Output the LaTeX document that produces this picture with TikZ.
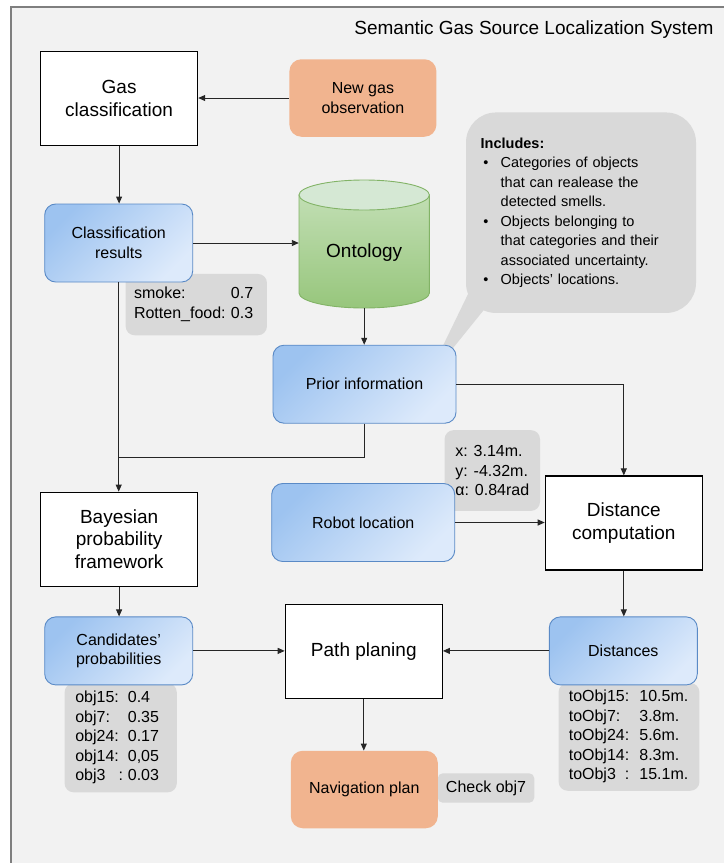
\documentclass[tikz,border=0pt]{standalone}
\usepackage{fontspec}
\setmainfont{Liberation Sans}
\usetikzlibrary{arrows.meta}

\definecolor{framefill}{HTML}{F2F2F2}
\definecolor{framedraw}{HTML}{7F7F7F}
\definecolor{notegray}{HTML}{D9D9D9}
\definecolor{obsorange}{HTML}{F1B48F}
\definecolor{bluedark}{HTML}{9DC3F0}
\definecolor{bluelight}{HTML}{DDEAFB}
\definecolor{blueedge}{HTML}{5A8AC6}
\definecolor{ontotop}{HTML}{D5E8D4}
\definecolor{ontohigh}{HTML}{C1DEB3}
\definecolor{ontolow}{HTML}{97C67C}
\definecolor{ontoedge}{HTML}{82B366}

\pgfdeclarelayer{back}
\pgfdeclarelayer{notes}
\pgfsetlayers{back,notes,main}

\def\bul{\hspace{2.6pt}\textbullet}

\tikzset{
	bigfont/.style={font=\fontsize{19}{22.5}\selectfont},
	smallfont/.style={font=\fontsize{16}{19.5}\selectfont},
	whitebox/.style={draw=black, line width=1.2pt, fill=white, minimum width=157pt, minimum height=94pt, align=center, bigfont},
	bluebox/.style={draw=blueedge, line width=0.9pt, rounded corners=11pt, top color=bluedark, bottom color=bluelight, shading angle=45, minimum width=148pt, minimum height=78pt, align=center, smallfont},
	orangebox/.style={fill=obsorange, rounded corners=12pt, minimum width=147pt, minimum height=77.5pt, align=center, smallfont},
	note/.style={fill=notegray, rounded corners=9pt, align=left, smallfont, inner ysep=0pt},
	arr/.style={draw=black!85, line width=0.9pt, -{Triangle[length=7pt,width=6pt]}},
	link/.style={draw=black!85, line width=0.9pt},
}

\begin{document}
\begin{tikzpicture}[x=1pt, y=-1pt]
		%%%%% START %%%%%
		\useasboundingbox (0,0) rectangle (724,863);
		
		\begin{pgfonlayer}{back}
			\fill[framefill] (11,7) rectangle (724,863);
			\draw[framedraw, line width=1.2pt] (11,863) -- (11,7) -- (724,7);
		\end{pgfonlayer}
		
		\node[bigfont, anchor=base east] (title) at (717,34) {Semantic Gas Source Localization System};
		
		\node[whitebox] (gcls) at (119.1,98.7) {Gas\\classification};
		\node[orangebox] (newobs) at (362.9,98) {New gas\\observation};
		\node[bluebox] (cres) at (118.7,243) {Classification\\results};
		
		% ontology cylinder
		\path[draw=ontoedge, line width=0.9pt, top color=ontohigh, bottom color=ontolow] (299,195) -- (299,293)
			.. controls (299,301.3) and (328.2,308) .. (364.2,308)
			.. controls (400.2,308) and (429.4,301.3) .. (429.4,293) -- (429.4,195) -- cycle;
		\draw[ontoedge, fill=ontotop, line width=0.9pt] (364.2,195) ellipse [x radius=65.2, y radius=15];
		\node[bigfont, minimum width=130.4pt, minimum height=110pt] (onto) at (364.2,253) {Ontology};
		
		\node[bluebox, minimum width=183pt] (prior) at (364.5,384.2) {Prior information};
		\node[whitebox] (bayes) at (119.1,539.2) {Bayesian\\probability\\framework};
		\node[bluebox, minimum width=183pt] (robot) at (363.2,522.5) {Robot location};
		\node[whitebox] (dist) at (623.8,523) {Distance\\computation};
		\node[bluebox, minimum height=68pt] (cand) at (118.7,650.9) {Candidates’\\probabilities};
		\node[whitebox] (path) at (363.8,651.2) {Path planing};
		\node[bluebox, minimum height=68pt] (dists) at (623.3,650.9) {Distances};
		\node[orangebox] (nav) at (364.3,789.5) {Navigation plan};
		
		% notes go behind the boxes
		\begin{pgfonlayer}{notes}
			\node[note, rounded corners=30pt, font=\fontsize{14.5}{19.5}\selectfont, text width=200.6pt, inner xsep=14.7pt, minimum height=200.5pt] (incl) at (581,212.7) {%
				\begin{tabular}{@{}p{20pt}@{}l@{}}
					\multicolumn{2}{@{}l@{}}{\textbf{Includes:}}\\
					\bul & Categories of objects\\
					& that can realease the\\
					& detected smells.\\
					\bul & Objects belonging to\\
					& that categories and their\\
					& associated uncertainty.\\
					\bul & Objects’ locations.
				\end{tabular}};
			\fill[notegray] (470,290) -- (487,306) -- (445,358) -- (437,358) -- cycle;
			
			\node[note, text width=124.5pt, inner xsep=8.4pt, minimum height=61.3pt] (smell) at (196.3,304.6)
				{\begin{tabular}{@{}l@{\ }r@{}}smoke: & 0.7\\ Rotten\_food: & 0.3\end{tabular}};
			\node[note, minimum width=95.4pt, inner xsep=10.1pt, minimum height=80.7pt] (pose) at (492.3,470.5)
				{x: 3.14m.\\y: -4.32m.\\α: 0.84rad};
			\node[note, text width=90.8pt, inner xsep=10.7pt, minimum height=109pt] (probs) at (120.7,737.8)
				{\begin{tabular}{@{}p{52.6pt}@{}l@{}}obj15: & 0.4\\ obj7: & 0.35\\ obj24: & 0.17\\ obj14: & 0,05\\ obj3\hspace{13pt}: & 0.03\end{tabular}};
			\node[note, text width=120.4pt, inner xsep=10.2pt, minimum height=107.7pt] (dvals) at (629,736.9)
				{\begin{tabular}{@{}p{70.6pt}@{}l@{}}toObj15: & 10.5m.\\ toObj7: & 3.8m.\\ toObj24: & 5.6m.\\ toObj14: & 8.3m.\\ toObj3\hspace{9pt}: & 15.1m.\end{tabular}};
			\node[note, rounded corners=5pt, minimum width=96.5pt, minimum height=29.4pt, inner xsep=0pt] (check) at (486,788) {Check obj7};
		\end{pgfonlayer}
		
		% connectors
		\coordinate (merge) at (118.7,457.3);
		\draw[arr] (newobs.west) -- (newobs.west -| gcls.east);
		\draw[arr] (gcls.south) -- (gcls.south |- cres.north);
		\draw[arr] (cres.east) -- (cres.east -| onto.west);
		\draw[arr] (onto.south) -- (onto.south |- prior.north);
		\draw[arr] (prior.east) -| (dist.north);
		\draw[arr] (cres.south) -- (cres.south |- bayes.north);
		\draw[link] (prior.south) |- (merge);
		\draw[arr] (robot.east) -- (robot.east -| dist.west);
		\draw[arr] (bayes.south) -- (bayes.south |- cand.north);
		\draw[arr] (dist.south) -- (dist.south |- dists.north);
		\draw[arr] (cand.east) -- (cand.east -| path.west);
		\draw[arr] (dists.west) -- (dists.west -| path.east);
		\draw[arr] (path.south) -- (path.south |- nav.north);
		
		%%%%% END %%%%%
\end{tikzpicture}
\end{document}
